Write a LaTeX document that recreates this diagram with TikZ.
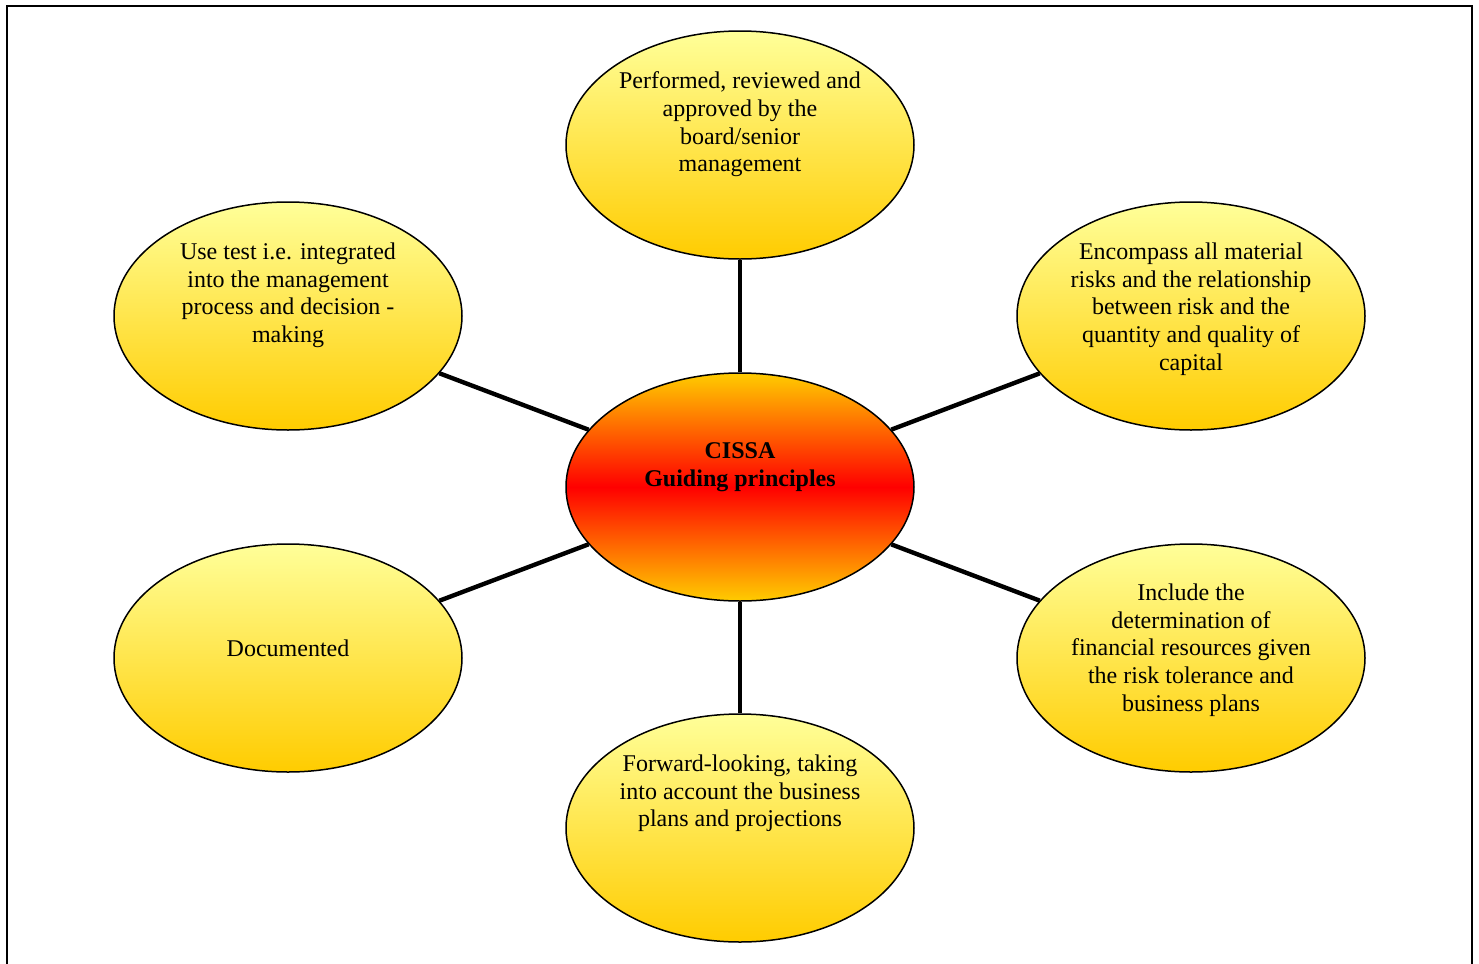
\documentclass[tikz,border=0pt]{standalone}
\usepackage{fontspec}
\setmainfont{Liberation Serif}
\usetikzlibrary{shapes.geometric,positioning}

\definecolor{paleyellow}{RGB}{255,255,153}
\definecolor{goldyellow}{RGB}{255,204,0}

\tikzset{
  bubble/.style={ellipse,draw=black,line width=0.75pt,minimum width=174pt,minimum height=114pt,
    top color=paleyellow,bottom color=goldyellow},
  hubble/.style={bubble,top color=goldyellow,bottom color=goldyellow,middle color=red},
  bubtext/.style={anchor=north,inner sep=0pt,align=center,font=\fontsize{12pt}{13.9pt}\selectfont},
  spoke/.style={line width=2.2pt,black}
}

\begin{document}
\begin{tikzpicture}[x=0.5pt,y=-0.5pt]
\useasboundingbox (0,0) rectangle (1479,964);

%frame round the whole figure (its lower edge is cut off)
\draw[line width=1pt] (7,964) -- (7,6) -- (1472,6) -- (1472,964);

%the ellipses
\node[hubble] (hub) at (740,487) {};
\node[bubble] (perf) at (740,145) {};
\node[bubble] (usetest) at (288,316) {};
\node[bubble] (encomp) at (1191,316) {};
\node[bubble] (docum) at (288,658) {};
\node[bubble] (incl) at (1191,658) {};
\node[bubble] (fwd) at (740,828) {};

%spokes from the centre
\foreach \n in {perf,usetest,encomp,docum,incl,fwd}
  \draw[spoke] (hub) -- (\n);

%texts
\node[bubtext,below=35pt of hub.north,font=\fontsize{12pt}{13.9pt}\selectfont\bfseries] (hub-txt) {CISSA\\Guiding principles};
\node[bubtext,below=20.5pt of perf.north] (perf-txt) {Performed, reviewed and\\approved by the\\board/senior\\management};
\node[bubtext,below=20.5pt of usetest.north] (usetest-txt) {Use test i.e. integrated\\into the management\\process and decision -\\making};
\node[bubtext,below=20.5pt of encomp.north] (encomp-txt) {Encompass all material\\risks and the relationship\\between risk and the\\quantity and quality of\\capital};
\node[bubtext,below=48pt of docum.north] (docum-txt) {Documented};
\node[bubtext,below=20pt of incl.north] (incl-txt) {Include the\\determination of\\financial resources given\\the risk tolerance and\\business plans};
\node[bubtext,below=20.5pt of fwd.north] (fwd-txt) {Forward-looking, taking\\into account the business\\plans and projections};
\end{tikzpicture}
\end{document}
